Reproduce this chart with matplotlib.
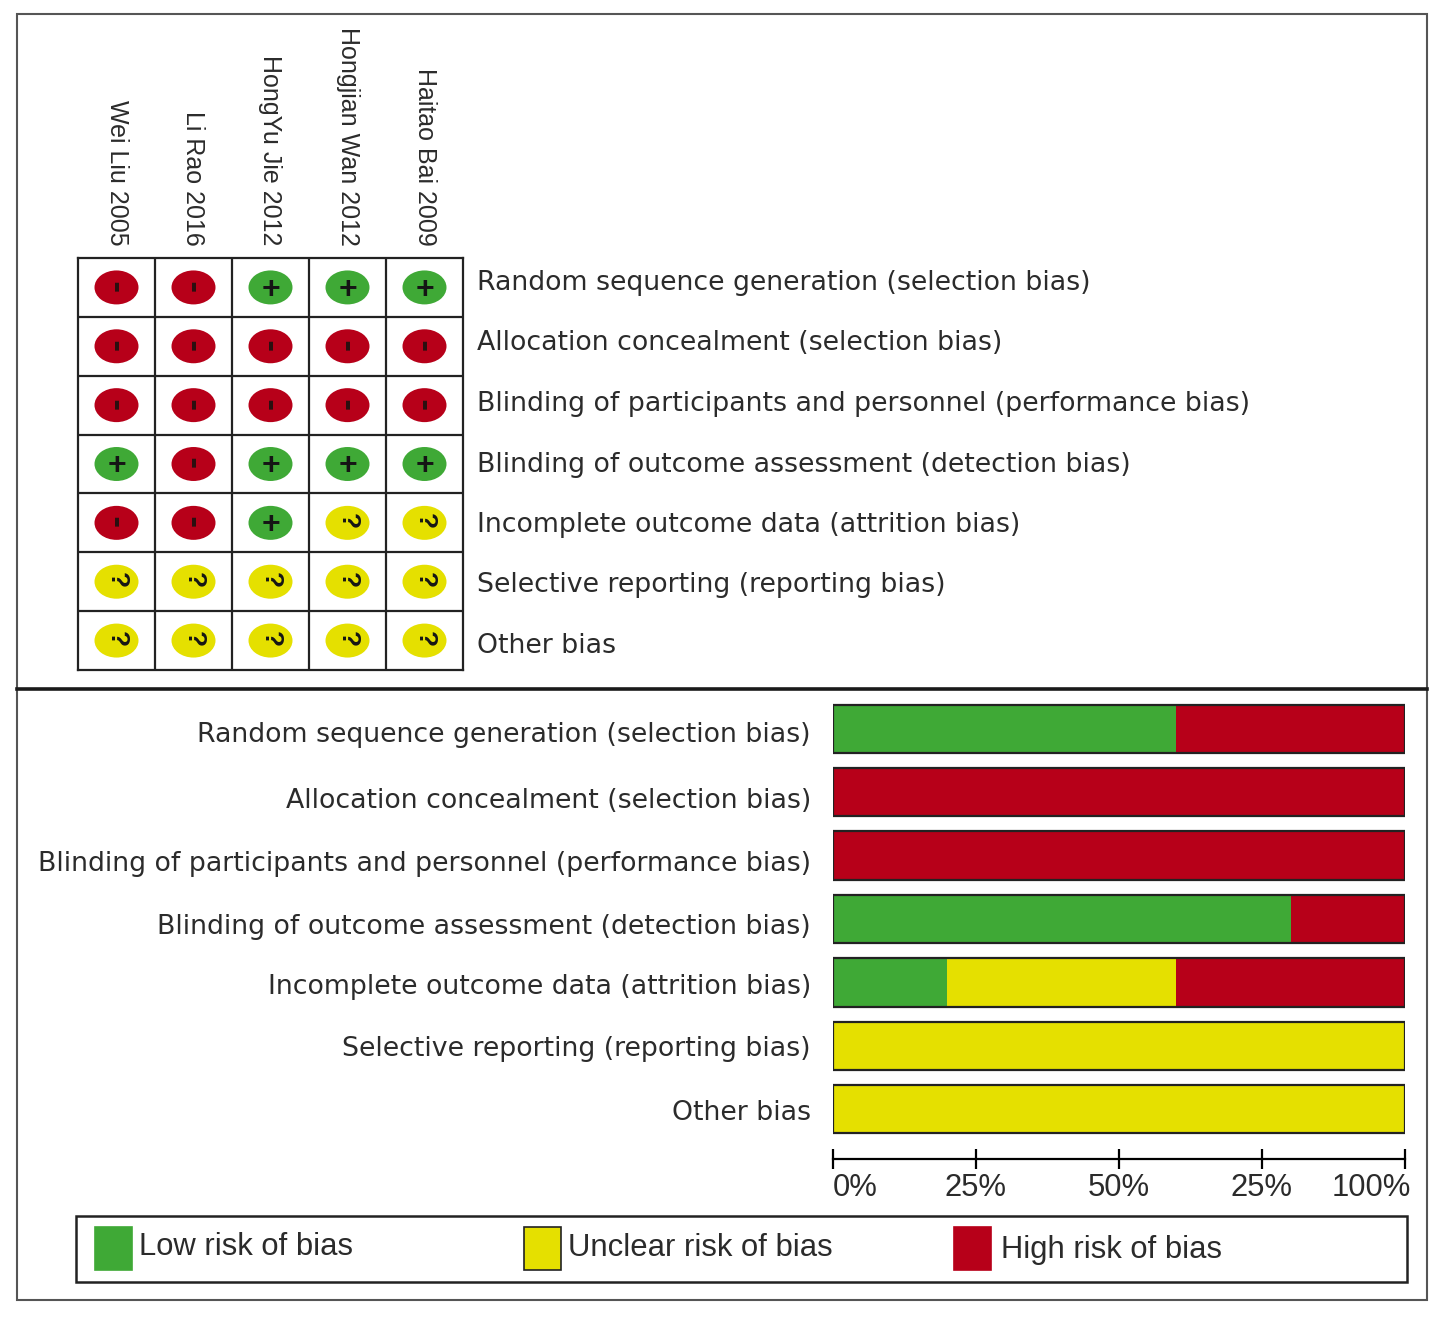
import matplotlib
matplotlib.use('Agg')
import matplotlib.pyplot as plt
from matplotlib.patches import Ellipse, Rectangle
from matplotlib.transforms import ScaledTranslation
import numpy as np

W, H = 1448, 1319

studies = ['Wei Liu 2005', 'Li Rao 2016', 'HongYu Jie 2012', 'Hongjian Wan 2012', 'Haitao Bai 2009']
domains = ['Random sequence generation (selection bias)',
           'Allocation concealment (selection bias)',
           'Blinding of participants and personnel (performance bias)',
           'Blinding of outcome assessment (detection bias)',
           'Incomplete outcome data (attrition bias)',
           'Selective reporting (reporting bias)',
           'Other bias']
judgements = ['--+++',
              '-----',
              '-----',
              '+-+++',
              '--+??',
              '?????',
              '?????']
low = [60, 0, 0, 80, 20, 0, 0]
unclear = [0, 0, 0, 0, 40, 100, 100]
high = [40, 100, 100, 20, 40, 0, 0]
tick_pos = [0, 25, 50, 75, 100]
tick_labels = ['0%', '25%', '50%', '25%', '100%']
legend_labels = ['Low risk of bias', 'Unclear risk of bias', 'High risk of bias']

GREEN = '#3fa936'
YELLOW = '#e5e000'
RED = '#b70019'
TXT = '#2b2b2b'
colors = {'+': GREEN, '-': RED, '?': YELLOW}


def pix_axes(x0, y0, x1, y1):
    # axes placed by reference pixels, y counted from the top
    return fig.add_axes([x0 / W, 1 - y1 / H, (x1 - x0) / W, (y1 - y0) / H])


fig = plt.figure(figsize=(W / 100, H / 100), dpi=100, facecolor='white')

# frames
bg = fig.add_axes([0, 0, 1, 1])
bg.set_xlim(0, W)
bg.set_ylim(H, 0)
bg.axis('off')
bg.add_patch(Rectangle((17, 14), 1410, 1286, fc='none', ec='#555555', lw=1.5))
bg.plot([17, 1427], [689, 689], color='#1a1a1a', lw=2.6)
bg.add_patch(Rectangle((76, 1216), 1331, 66, fc='none', ec='#222222', lw=1.8))

# top: summary grid
ax = pix_axes(78, 258, 463, 670)
ax.set_xlim(0, len(studies))
ax.set_ylim(len(domains), 0)
ax.set_xticks([])
ax.set_yticks([])
for s in ax.spines.values():
    s.set_linewidth(1.6)
    s.set_color('#222222')
for i in range(1, len(studies)):
    ax.axvline(i, color='#222222', lw=1.6)
for i in range(1, len(domains)):
    ax.axhline(i, color='#222222', lw=1.6)
for r, row in enumerate(judgements):
    for c, j in enumerate(row):
        ax.add_patch(Ellipse((c + 0.5, r + 0.5), 44 / 77, 34 / 58.9, fc=colors[j], ec='none'))
        if j == '+':
            ax.text(c + 0.5, r + 0.54, '+', ha='center', va='center', fontsize=23, color='#151515',
                    family='Liberation Sans', fontweight='bold')
        elif j == '-':
            ax.text(c + 0.5, r + 0.46, '-', ha='center', va='center', fontsize=25, color='#2a1010',
                    rotation=90, fontweight='bold', family='Liberation Sans')
        else:
            ax.text(c + 0.5, r + 0.47, '?', ha='center', va='center', fontsize=19, color='#151515',
                    rotation=-90, fontweight='bold', family='Liberation Sans')
for c, name in enumerate(studies):
    ax.text(c + 0.5, -0.21, name, rotation=270, ha='center', va='bottom', fontsize=18,
            family='Liberation Sans', color=TXT)
for r, name in enumerate(domains):
    bg.text(477, 283 + 60.5 * r, name, ha='left', va='center', fontsize=19.3, color=TXT,
            family='DejaVu Sans')

# bottom: stacked bars
ax2 = pix_axes(833, 697, 1405, 1141)
y = np.arange(len(domains))
ax2.barh(y, low, 0.76, color=GREEN, linewidth=0)
ax2.barh(y, unclear, 0.76, left=low, color=YELLOW, linewidth=0)
ax2.barh(y, high, 0.76, left=np.add(low, unclear), color=RED, linewidth=0)
for yy in y:
    ax2.add_patch(Rectangle((0, yy - 0.38), 100, 0.76, fc='none', ec='#222222', lw=1.6))
ax2.set_xlim(0, 100)
ax2.set_ylim(len(domains) - 0.5, -0.5)
ax2.set_yticks([])
ax2.spines[['top', 'left', 'right']].set_visible(False)
ax2.spines['bottom'].set_position(('outward', 13))
ax2.spines['bottom'].set_linewidth(1.6)
ax2.set_xticks(tick_pos)
ax2.set_xticklabels(tick_labels, fontsize=22.3, color=TXT, family='Liberation Sans')
ax2.tick_params(axis='x', direction='inout', length=14, width=1.6, pad=3)
xt = ax2.get_xticklabels()
xt[0].set_ha('left')
xt[-1].set_ha('right')
xt[-1].set_transform(xt[-1].get_transform() + ScaledTranslation(0.06, 0, fig.dpi_scale_trans))
ax2.patch.set_alpha(0)
# row labels sit a little below the bars in the original
for name, yy in zip(domains, [735, 801, 864, 927, 987, 1049, 1113]):
    bg.text(811, yy, name, ha='right', va='center', fontsize=19.3, color=TXT, family='DejaVu Sans')

# legend
for x0, col, lab, tx, ty in zip([95, 524, 954], [GREEN, YELLOW, RED], legend_labels,
                                [139, 568, 1001], [1247, 1248, 1250]):
    ec = '#222222' if col == YELLOW else col
    bg.add_patch(Rectangle((x0, 1227), 37, 43, fc=col, ec=ec, lw=1.2))
    bg.text(tx, ty, lab, ha='left', va='center', fontsize=22.3, color=TXT, family='Liberation Sans')

fig.savefig('out.png', dpi=100)
